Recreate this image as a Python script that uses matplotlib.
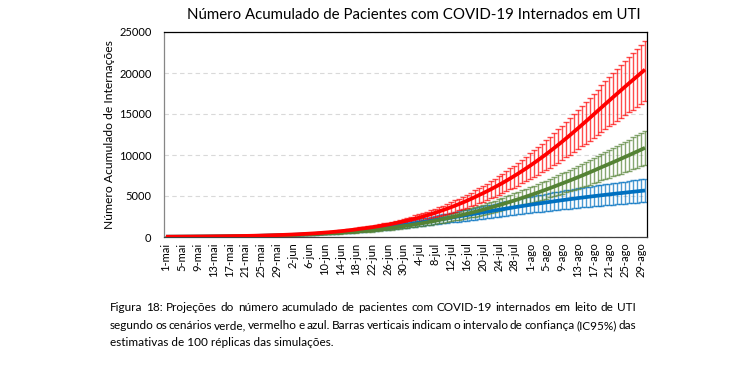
import matplotlib
matplotlib.use("Agg")
import matplotlib.pyplot as plt
import numpy as np

plt.rcParams['font.family'] = ['Lato', 'DejaVu Sans']

# daily values, 1-mai .. 30-ago
red_mean = [30, 35, 37, 40, 43, 46, 49, 53, 57, 61,
            65, 70, 75, 81, 87, 93, 100, 107, 115, 123,
            132, 142, 152, 163, 175, 188, 202, 216, 232, 249,
            267, 286, 307, 329, 353, 378, 405, 434, 465, 498,
            534, 572, 613, 657, 704, 754, 808, 866, 928, 1000,
            1060, 1124, 1192, 1264, 1340, 1420, 1505, 1595, 1690, 1790,
            1895, 2005, 2121, 2243, 2371, 2506, 2648, 2797, 2953, 3117,
            3282, 3454, 3633, 3819, 4012, 4212, 4420, 4636, 4860, 5092,
            5322, 5560, 5806, 6060, 6322, 6592, 6870, 7156, 7450, 7752,
            8062, 8380, 8706, 9040, 9382, 9732, 10090, 10456, 10830, 11212,
            11602, 12000, 12404, 12814, 13229, 13649, 14073, 14501, 14932, 15366,
            15796, 16226, 16654, 17080, 17504, 17926, 18346, 18764, 19180, 19594, 20006, 20416]
red_hi = [35, 41, 43, 47, 50, 54, 57, 62, 67, 71,
          76, 82, 88, 95, 102, 109, 117, 125, 135, 144,
          154, 166, 178, 191, 205, 220, 236, 253, 271, 291,
          312, 335, 359, 385, 413, 442, 474, 508, 544, 583,
          625, 669, 717, 769, 824, 882, 945, 1013, 1086, 1170,
          1240, 1315, 1395, 1479, 1568, 1661, 1761, 1866, 1977, 2094,
          2217, 2346, 2482, 2624, 2774, 2932, 3098, 3272, 3455, 3647,
          3840, 4041, 4251, 4468, 4694, 4928, 5171, 5424, 5686, 5958,
          6227, 6505, 6793, 7090, 7397, 7713, 8038, 8373, 8717, 9070,
          9433, 9805, 10186, 10577, 10977, 11386, 11805, 12234, 12671, 13118,
          13574, 14040, 14513, 14992, 15478, 15969, 16465, 16966, 17470, 17978,
          18481, 18984, 19485, 19984, 20480, 20973, 21465, 21954, 22441, 22925, 23407, 23887]
red_lo = [24, 28, 30, 32, 35, 37, 40, 43, 46, 49,
          53, 57, 61, 66, 70, 75, 81, 87, 93, 100,
          107, 115, 123, 132, 142, 152, 164, 175, 188, 202,
          216, 232, 249, 266, 286, 306, 328, 352, 377, 403,
          433, 463, 497, 532, 570, 611, 654, 701, 752, 810,
          859, 910, 966, 1024, 1085, 1150, 1219, 1292, 1369, 1450,
          1535, 1624, 1718, 1817, 1921, 2030, 2145, 2266, 2392, 2525,
          2658, 2798, 2943, 3093, 3250, 3412, 3580, 3755, 3937, 4125,
          4311, 4504, 4703, 4909, 5121, 5340, 5565, 5796, 6035, 6279,
          6530, 6788, 7052, 7322, 7599, 7883, 8173, 8469, 8772, 9082,
          9398, 9720, 10047, 10379, 10715, 11056, 11399, 11746, 12095, 12446,
          12795, 13143, 13490, 13835, 14178, 14520, 14860, 15199, 15536, 15871, 16205, 16537]

green_mean = [30, 32, 34, 36, 39, 42, 44, 47, 50, 54,
              57, 61, 65, 70, 74, 79, 85, 90, 96, 103,
              110, 117, 125, 133, 142, 152, 162, 173, 184, 197,
              210, 224, 239, 255, 272, 290, 310, 330, 352, 376,
              401, 426, 452, 480, 510, 542, 575, 611, 649, 689,
              732, 777, 825, 876, 931, 988, 1050, 1115, 1184, 1257,
              1335, 1402, 1472, 1546, 1624, 1706, 1792, 1882, 1977, 2077,
              2182, 2282, 2386, 2493, 2603, 2716, 2832, 2951, 3073, 3198,
              3326, 3457, 3591, 3728, 3868, 4011, 4157, 4306, 4458, 4613,
              4771, 4932, 5096, 5263, 5433, 5606, 5782, 5961, 6143, 6328,
              6516, 6702, 6891, 7083, 7278, 7476, 7677, 7881, 8088, 8298,
              8511, 8716, 8923, 9132, 9343, 9556, 9771, 9988, 10207, 10428, 10651, 10876]
green_hi = [36, 38, 40, 43, 46, 50, 52, 56, 60, 64,
            68, 73, 77, 83, 88, 94, 101, 107, 114, 123,
            131, 139, 149, 158, 169, 181, 193, 206, 219, 234,
            250, 267, 284, 303, 324, 345, 369, 393, 419, 447,
            477, 507, 538, 571, 607, 645, 684, 727, 772, 820,
            871, 925, 982, 1042, 1108, 1176, 1250, 1327, 1409, 1496,
            1589, 1668, 1752, 1840, 1933, 2030, 2132, 2240, 2353, 2472,
            2597, 2716, 2839, 2967, 3098, 3232, 3370, 3512, 3657, 3806,
            3958, 4114, 4273, 4436, 4603, 4773, 4947, 5124, 5305, 5489,
            5677, 5869, 6064, 6263, 6465, 6671, 6881, 7094, 7310, 7530,
            7754, 7975, 8200, 8429, 8661, 8896, 9136, 9378, 9625, 9875,
            10128, 10372, 10618, 10867, 11118, 11372, 11627, 11886, 12146, 12409, 12675, 12942]
green_lo = [24, 26, 28, 29, 32, 34, 36, 38, 41, 44,
            46, 49, 53, 57, 60, 64, 69, 73, 78, 83,
            89, 95, 101, 108, 115, 123, 131, 140, 149, 160,
            170, 181, 194, 207, 220, 235, 251, 267, 285, 305,
            325, 345, 366, 389, 413, 439, 466, 495, 526, 558,
            593, 629, 668, 710, 754, 800, 851, 903, 959, 1018,
            1081, 1136, 1192, 1252, 1315, 1382, 1452, 1524, 1601, 1682,
            1767, 1848, 1933, 2019, 2108, 2200, 2294, 2390, 2489, 2590,
            2694, 2800, 2909, 3020, 3133, 3249, 3367, 3488, 3611, 3737,
            3865, 3995, 4128, 4263, 4401, 4541, 4683, 4828, 4976, 5126,
            5278, 5429, 5582, 5737, 5895, 6056, 6218, 6384, 6551, 6721,
            6894, 7060, 7228, 7397, 7568, 7740, 7915, 8090, 8268, 8447, 8627, 8810]

blue_mean = [30, 32, 34, 37, 39, 42, 45, 48, 52, 55,
             59, 63, 68, 72, 77, 83, 89, 95, 101, 108,
             116, 124, 133, 142, 152, 163, 174, 186, 199, 213,
             228, 244, 261, 279, 299, 320, 342, 366, 392, 419,
             449, 478, 509, 542, 577, 615, 655, 698, 743, 791,
             843, 898, 955, 1014, 1075, 1137, 1200, 1264, 1329, 1395,
             1462, 1530, 1600, 1672, 1745, 1819, 1894, 1970, 2047, 2124,
             2202, 2281, 2360, 2440, 2520, 2600, 2680, 2760, 2840, 2920,
             3000, 3080, 3160, 3239, 3318, 3396, 3474, 3551, 3628, 3704,
             3780, 3855, 3929, 4002, 4074, 4145, 4215, 4284, 4352, 4419,
             4485, 4550, 4614, 4677, 4739, 4800, 4860, 4919, 4977, 5034,
             5090, 5145, 5200, 5254, 5308, 5361, 5414, 5466, 5518, 5569, 5620, 5670]
blue_hi = [38, 40, 43, 46, 49, 53, 56, 60, 65, 69,
           74, 79, 85, 90, 96, 104, 111, 119, 126, 135,
           145, 155, 166, 178, 190, 204, 218, 233, 249, 266,
           285, 305, 326, 349, 374, 400, 428, 458, 490, 524,
           561, 598, 636, 678, 721, 769, 819, 873, 929, 989,
           1054, 1123, 1194, 1268, 1344, 1421, 1500, 1580, 1661, 1744,
           1828, 1913, 2000, 2090, 2181, 2274, 2368, 2463, 2559, 2655,
           2753, 2851, 2950, 3050, 3150, 3250, 3350, 3450, 3550, 3650,
           3750, 3850, 3950, 4049, 4148, 4245, 4343, 4439, 4535, 4630,
           4725, 4819, 4911, 5003, 5093, 5181, 5269, 5355, 5440, 5524,
           5606, 5688, 5768, 5846, 5924, 6000, 6075, 6149, 6221, 6293,
           6363, 6431, 6500, 6568, 6635, 6701, 6768, 6833, 6898, 6961, 7025, 7088]
blue_lo = [23, 24, 26, 28, 29, 32, 34, 36, 39, 41,
           44, 47, 51, 54, 58, 62, 67, 71, 76, 81,
           87, 93, 100, 107, 114, 122, 131, 140, 149, 160,
           171, 183, 196, 209, 224, 240, 257, 275, 294, 314,
           337, 359, 382, 407, 433, 461, 491, 524, 557, 593,
           632, 674, 716, 761, 806, 853, 900, 948, 997, 1046,
           1097, 1148, 1200, 1254, 1309, 1364, 1421, 1478, 1535, 1593,
           1652, 1711, 1770, 1830, 1890, 1950, 2010, 2070, 2130, 2190,
           2250, 2310, 2370, 2429, 2489, 2547, 2606, 2663, 2721, 2778,
           2835, 2891, 2947, 3002, 3056, 3109, 3161, 3213, 3264, 3314,
           3364, 3413, 3461, 3508, 3554, 3600, 3645, 3689, 3733, 3776,
           3818, 3859, 3900, 3941, 3981, 4021, 4061, 4100, 4139, 4177, 4215, 4253]

tick_labels = ['1-mai', '5-mai', '9-mai', '13-mai', '17-mai', '21-mai', '25-mai', '29-mai',
               '2-jun', '6-jun', '10-jun', '14-jun', '18-jun', '22-jun', '26-jun', '30-jun',
               '4-jul', '8-jul', '12-jul', '16-jul', '20-jul', '24-jul', '28-jul',
               '1-ago', '5-ago', '9-ago', '13-ago', '17-ago', '21-ago', '25-ago', '29-ago']

caption = [
    "Figura 18: Projeções do número acumulado de pacientes com COVID-19 internados em leito de UTI",
    "segundo os cenários verde, vermelho e azul. Barras verticais indicam o intervalo de confiança (IC95%) das",
    "estimativas de 100 réplicas das simulações.",
]

W, H = 751, 383
fig = plt.figure(figsize=(W / 100, H / 100), dpi=100)
ax = fig.add_axes([164 / W, 1 - 237 / H, (647 - 164) / W, (237 - 32) / H])

days = np.arange(len(red_mean))
series = [
    (blue_mean, blue_lo, blue_hi, '#0070C0'),
    (green_mean, green_lo, green_hi, '#548235'),
    (red_mean, red_lo, red_hi, '#FF0000'),
]
for mean, lo, hi, col in series:
    m = np.array(mean)
    err = [m - np.array(lo), np.array(hi) - m]
    ax.errorbar(days, m, yerr=err, fmt='none', ecolor=col, elinewidth=1.0,
                capsize=2.5, capthick=1.0, alpha=0.7, zorder=2)
for mean, lo, hi, col in series:
    ax.plot(days, mean, color=col, lw=2.7, zorder=3, solid_capstyle='butt')

ax.set_xlim(-0.5, len(days) - 0.5)
ax.set_ylim(0, 25000)
ax.set_yticks(range(0, 25001, 5000))
ax.set_xticks(range(0, len(days), 4))
ax.set_xticklabels(tick_labels, rotation=90, fontsize=8)
ax.tick_params(axis='y', labelsize=8, length=0, pad=9)
ax.tick_params(axis='x', length=0, pad=4)
ax.grid(axis='y', color='#D9D9D9', ls=(0, (4, 3)), lw=0.8)
ax.set_axisbelow(True)
for s in ax.spines.values():
    s.set_color('black')
    s.set_linewidth(0.9)
ax.spines['left'].set_color('#868686')
ax.spines['bottom'].set_color('#404040')

ax.set_ylabel('Número Acumulado de Internações', fontsize=8.7, labelpad=3)
fig.text(414 / W, 1 - 15 / H, 'Número Acumulado de Pacientes com COVID-19 Internados em UTI',
         ha='center', va='center', fontsize=10.8)

# caption, first two lines justified
renderer = fig.canvas.get_renderer()
x0, x1 = 110, 636
ys = [311, 329, 346]
fs = 8.5
for i, line in enumerate(caption):
    yy = 1 - ys[i] / H
    if i < 2:
        words = line.split(' ')
        texts = [fig.text(0, yy, w, fontsize=fs, va='baseline', ha='left') for w in words]
        widths = [t.get_window_extent(renderer).width for t in texts]
        gap = (x1 - x0 - sum(widths)) / (len(words) - 1)
        x = x0
        for t, w in zip(texts, widths):
            t.set_x(x / W)
            x += w + gap
    else:
        fig.text(x0 / W, yy, line, fontsize=fs, va='baseline', ha='left')

fig.savefig('out.png', dpi=100)
